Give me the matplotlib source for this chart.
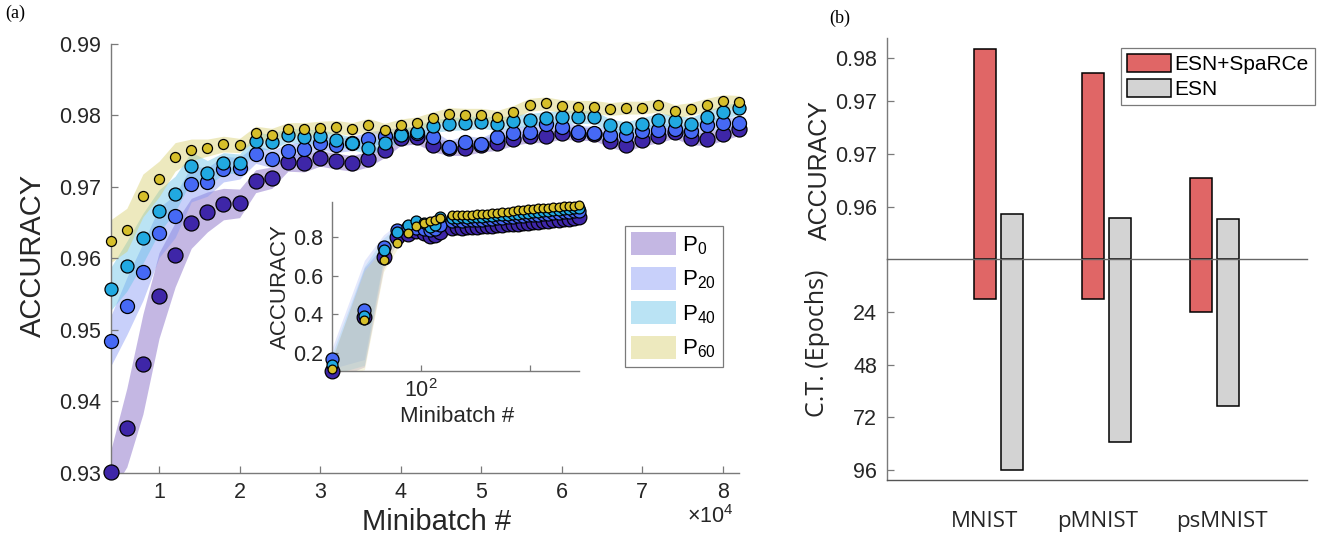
import numpy as np
import matplotlib
matplotlib.use("Agg")
import matplotlib.pyplot as plt
from matplotlib.patches import Patch
from matplotlib.ticker import NullLocator

plt.rcParams["font.family"] = "Liberation Sans"
plt.rcParams["mathtext.fontset"] = "custom"
plt.rcParams["mathtext.rm"] = "Liberation Sans"

# ---------------- data: panel (a) ----------------
minibatch = np.arange(4000, 82001, 2000)

acc_p0 = [0.9301, 0.9363, 0.9452, 0.9548, 0.9605, 0.9649, 0.9665, 0.9676, 0.9677, 0.9708,
          0.9713, 0.9735, 0.9733, 0.9740, 0.9736, 0.9733, 0.9739, 0.9752, 0.9768, 0.9770,
          0.9759, 0.9754, 0.9754, 0.9759, 0.9761, 0.9767, 0.9771, 0.9771, 0.9776, 0.9774,
          0.9774, 0.9764, 0.9759, 0.9766, 0.9771, 0.9777, 0.9768, 0.9767, 0.9774, 0.9781]
acc_p20 = [0.9484, 0.9533, 0.9581, 0.9636, 0.9659, 0.9704, 0.9707, 0.9725, 0.9726, 0.9746,
           0.9739, 0.9750, 0.9753, 0.9762, 0.9758, 0.9761, 0.9767, 0.9771, 0.9774, 0.9775,
           0.9770, 0.9756, 0.9763, 0.9760, 0.9770, 0.9775, 0.9777, 0.9788, 0.9784, 0.9777,
           0.9776, 0.9773, 0.9772, 0.9778, 0.9779, 0.9781, 0.9778, 0.9787, 0.9789, 0.9789]
acc_p40 = [0.9557, 0.9589, 0.9628, 0.9666, 0.9690, 0.9729, 0.9719, 0.9733, 0.9733, 0.9764,
           0.9763, 0.9773, 0.9770, 0.9771, 0.9766, 0.9761, 0.9755, 0.9761, 0.9773, 0.9777,
           0.9785, 0.9788, 0.9789, 0.9791, 0.9788, 0.9792, 0.9794, 0.9796, 0.9798, 0.9798,
           0.9798, 0.9786, 0.9782, 0.9788, 0.9794, 0.9792, 0.9788, 0.9798, 0.9805, 0.9810]
acc_p60 = [0.9624, 0.9640, 0.9688, 0.9711, 0.9742, 0.9752, 0.9755, 0.9760, 0.9758, 0.9775,
           0.9773, 0.9781, 0.9781, 0.9783, 0.9784, 0.9781, 0.9787, 0.9780, 0.9786, 0.9789,
           0.9796, 0.9802, 0.9801, 0.9801, 0.9798, 0.9805, 0.9815, 0.9817, 0.9813, 0.9812,
           0.9812, 0.9809, 0.9811, 0.9811, 0.9814, 0.9806, 0.9809, 0.9815, 0.9820, 0.9819]

# half width of the shaded spread around each curve
spread_p0 = [0.0030, 0.0055, 0.0070, 0.0060, 0.0045, 0.0035, 0.0028, 0.0022, 0.0020, 0.0016,
             0.0015, 0.0013, 0.0012, 0.0011, 0.0011, 0.0011, 0.0011, 0.0011, 0.0010, 0.0010,
             0.0010, 0.0010, 0.0010, 0.0010, 0.0010, 0.0009, 0.0009, 0.0009, 0.0009, 0.0009,
             0.0009, 0.0009, 0.0009, 0.0009, 0.0009, 0.0009, 0.0009, 0.0009, 0.0009, 0.0009]
spread_p20 = [0.0035, 0.0040, 0.0040, 0.0035, 0.0030, 0.0025, 0.0020, 0.0018, 0.0015, 0.0013,
              0.0012, 0.0011, 0.0010, 0.0010, 0.0010, 0.0010, 0.0010, 0.0010, 0.0009, 0.0009,
              0.0009, 0.0009, 0.0009, 0.0009, 0.0009, 0.0009, 0.0009, 0.0009, 0.0009, 0.0009,
              0.0009, 0.0009, 0.0009, 0.0009, 0.0009, 0.0009, 0.0009, 0.0009, 0.0009, 0.0009]
spread_p40 = [0.0030, 0.0035, 0.0035, 0.0030, 0.0025, 0.0020, 0.0018, 0.0015, 0.0013, 0.0012,
              0.0011, 0.0010, 0.0010, 0.0010, 0.0009, 0.0009, 0.0009, 0.0009, 0.0009, 0.0009,
              0.0009, 0.0009, 0.0009, 0.0009, 0.0009, 0.0009, 0.0009, 0.0009, 0.0009, 0.0009,
              0.0009, 0.0009, 0.0009, 0.0009, 0.0009, 0.0009, 0.0009, 0.0009, 0.0009, 0.0009]
spread_p60 = [0.0030, 0.0030, 0.0030, 0.0025, 0.0020, 0.0015, 0.0012, 0.0011, 0.0010, 0.0010,
              0.0009, 0.0009, 0.0009, 0.0009, 0.0009, 0.0009, 0.0009, 0.0009, 0.0009, 0.0009,
              0.0009, 0.0009, 0.0009, 0.0009, 0.0009, 0.0009, 0.0009, 0.0009, 0.0009, 0.0009,
              0.0009, 0.0009, 0.0009, 0.0009, 0.0009, 0.0009, 0.0009, 0.0009, 0.0009, 0.0009]

# inset: whole training on a log axis
minibatch_inset = [15, 30, 45, 60, 75, 90, 105, 120, 135, 150,
                   190, 212, 236, 263, 293, 326, 363, 405, 451, 502, 559, 623, 694,
                   773, 861, 959, 1068, 1190, 1326, 1477, 1645, 1833, 2042, 2275, 2534, 2823]
inset_p0 = [0.110, 0.385, 0.695, 0.800, 0.815, 0.830, 0.820, 0.805, 0.810, 0.825,
            0.845, 0.848, 0.846, 0.850, 0.852, 0.850, 0.853, 0.856, 0.855, 0.858, 0.862,
            0.864, 0.863, 0.867, 0.870, 0.872, 0.875, 0.877, 0.879, 0.882, 0.884, 0.887,
            0.889, 0.892, 0.895, 0.899]
inset_p20 = [0.171, 0.423, 0.749, 0.835, 0.850, 0.845, 0.838, 0.835, 0.840, 0.860,
             0.882, 0.884, 0.883, 0.885, 0.884, 0.887, 0.888, 0.889, 0.892, 0.894, 0.897,
             0.899, 0.902, 0.904, 0.907, 0.909, 0.912, 0.914, 0.917, 0.919, 0.922, 0.924,
             0.926, 0.929, 0.931, 0.934]
inset_p40 = [0.140, 0.393, 0.732, 0.826, 0.860, 0.881, 0.868, 0.850, 0.862, 0.900,
             0.897, 0.898, 0.899, 0.898, 0.900, 0.901, 0.903, 0.904, 0.906, 0.909, 0.911,
             0.913, 0.916, 0.919, 0.921, 0.924, 0.927, 0.929, 0.932, 0.934, 0.937, 0.939,
             0.941, 0.943, 0.945, 0.948]
inset_p60 = [0.119, 0.370, 0.680, 0.766, 0.821, 0.855, 0.872, 0.880, 0.886, 0.895,
             0.911, 0.912, 0.913, 0.913, 0.914, 0.915, 0.917, 0.919, 0.921, 0.924, 0.926,
             0.929, 0.932, 0.935, 0.937, 0.940, 0.943, 0.945, 0.948, 0.950, 0.952, 0.954,
             0.956, 0.958, 0.960, 0.962]
inset_spread = [0.050, 0.255, 0.060, 0.030, 0.020, 0.015, 0.012, 0.010, 0.010, 0.010,
                0.008, 0.008, 0.008, 0.008, 0.008, 0.008, 0.008, 0.008, 0.008, 0.008, 0.008,
                0.008, 0.008, 0.008, 0.008, 0.008, 0.008, 0.008, 0.008, 0.008, 0.008, 0.008,
                0.008, 0.008, 0.008, 0.008]

series_names = ["P$_{0}$", "P$_{20}$", "P$_{40}$", "P$_{60}$"]

# ---------------- data: panel (b) ----------------
datasets = ["MNIST", "pMNIST", "psMNIST"]
acc_sparce = [0.9750, 0.9727, 0.9627]
acc_esn = [0.9593, 0.9589, 0.9588]
epochs_sparce = [18.2, 18.2, 24.1]
epochs_esn = [96.0, 83.3, 67.1]
acc_ticks = [0.960, 0.965, 0.970, 0.9741]
acc_ticklabels = ["0.96", "0.97", "0.97", "0.98"]
epoch_ticks = [24, 48, 72, 96]

# ---------------- style ----------------
marker_cols = ["#3e26a8", "#4669f5", "#21a9e1", "#d6bf2a"]
band_cols = ["#7c61c3", "#8597f4", "#66c3e7", "#d9d06f"]
main_sizes = [117, 102, 88, 52]
inset_sizes = [112, 88, 62, 40]
axis_grey = "#7a7a7a"
text_col = "#262626"

fig = plt.figure(figsize=(13.4, 5.47), dpi=100)

# ---------------- panel (a): main axes ----------------
ax = fig.add_axes([0.0826, 0.1358, 0.4689, 0.7837])
series = [acc_p0, acc_p20, acc_p40, acc_p60]
spreads = [spread_p0, spread_p20, spread_p40, spread_p60]
for vals, spr, bc in zip(series, spreads, band_cols):
    v = np.array(vals)
    s = np.array(spr)
    ax.fill_between(minibatch, v - s, v + s, color=bc, alpha=0.45, lw=0, zorder=1)
for vals, mc, ms in zip(series, marker_cols, main_sizes):
    ax.scatter(minibatch, vals, s=ms, c=mc, edgecolors="black", linewidths=0.9,
               zorder=3, clip_on=False)

ax.set_xlim(4000, 82000)
ax.set_ylim(0.93, 0.99)
ax.set_xticks([10000 * k for k in range(1, 9)])
ax.set_xticklabels([str(k) for k in range(1, 9)])
ax.set_yticks([0.93, 0.94, 0.95, 0.96, 0.97, 0.98, 0.99])
ax.set_yticklabels(["0.93", "0.94", "0.95", "0.96", "0.97", "0.98", "0.99"])
for side in ["top", "right"]:
    ax.spines[side].set_visible(False)
for side in ["left", "bottom"]:
    ax.spines[side].set_color(axis_grey)
    ax.spines[side].set_linewidth(1.0)
ax.tick_params(direction="in", length=5, width=0.9, color=axis_grey,
               labelcolor=text_col, labelsize=15.5, pad=7)

fig.text(33 / 1340, 1 - 255 / 547, "ACCURACY", rotation=90, ha="center", va="center",
         fontsize=21, color=text_col)
fig.text(437 / 1340, 1 - 522 / 547, "Minibatch #", ha="center", va="center",
         fontsize=21, color=text_col)
fig.text(710 / 1340, 1 - 517 / 547, r"$\mathregular{\times10^{4}}$", ha="center",
         va="center", fontsize=15.5, color=text_col)

handles = [Patch(facecolor=bc, alpha=0.45, edgecolor="none") for bc in band_cols]
leg = ax.legend(handles, series_names, loc="upper left", bbox_to_anchor=(0.818, 0.576),
                fontsize=16, handlelength=2.0, handleheight=1.2, labelspacing=0.45,
                handletextpad=0.3, borderpad=0.3, borderaxespad=0, fancybox=False,
                framealpha=1, edgecolor=axis_grey)
leg.get_frame().set_linewidth(0.9)

# ---------------- panel (a): inset ----------------
ax_in = fig.add_axes([0.2475, 0.3218, 0.1846, 0.3095])
inset_series = [inset_p0, inset_p20, inset_p40, inset_p60]
for vals, bc in zip(inset_series, band_cols):
    v = np.array(vals)
    s = np.array(inset_spread)
    ax_in.fill_between(minibatch_inset, v - s, v + s, color=bc, alpha=0.22, lw=0, zorder=1)
for vals, mc, ms in zip(inset_series, marker_cols, inset_sizes):
    ax_in.scatter(minibatch_inset, vals, s=ms, c=mc, edgecolors="black", linewidths=0.9,
                  zorder=3, clip_on=False)
ax_in.set_xscale("log")
ax_in.set_xlim(15, 2830)
ax_in.set_ylim(0.109, 0.98)
ax_in.xaxis.set_minor_locator(NullLocator())
ax_in.set_xticks([100, 1000])
ax_in.set_xticklabels([r"$\mathregular{10^{2}}$", ""])
ax_in.set_yticks([0.2, 0.4, 0.6, 0.8])
ax_in.set_yticklabels(["0.2", "0.4", "0.6", "0.8"])
for side in ["top", "right"]:
    ax_in.spines[side].set_visible(False)
for side in ["left", "bottom"]:
    ax_in.spines[side].set_color(axis_grey)
    ax_in.spines[side].set_linewidth(1.0)
ax_in.tick_params(direction="in", length=4, width=0.9, color=axis_grey,
                  labelcolor=text_col, labelsize=15.5, pad=6)
ax_in.patch.set_alpha(0)
fig.text(280 / 1340, 1 - 287 / 547, "ACCURACY", rotation=90, ha="center", va="center",
         fontsize=16, color=text_col)
fig.text(457 / 1340, 1 - 417 / 547, "Minibatch #", ha="center", va="center",
         fontsize=16, color=text_col)

# ---------------- panel (b) ----------------
groups = np.arange(1, len(datasets) + 1)
bar_w = 0.204
off = 0.125
red = "#e06666"
grey = "#d3d3d3"

ax_b = fig.add_axes([0.662, 0.1225, 0.3134, 0.4035])
ax_t = fig.add_axes([0.662, 0.526, 0.3134, 0.404])

base = 0.955
ax_t.bar(groups - off, np.array(acc_sparce) - base, bottom=base, width=bar_w, color=red,
         edgecolor="black", linewidth=1.1, label="ESN+SpaRCe")
ax_t.bar(groups + off, np.array(acc_esn) - base, bottom=base, width=bar_w, color=grey,
         edgecolor="black", linewidth=1.1, label="ESN")
ax_t.set_ylim(base, 0.976)
ax_t.set_yticks(acc_ticks)
ax_t.set_yticklabels(acc_ticklabels)

ax_b.bar(groups - off, epochs_sparce, width=bar_w, color=red, edgecolor="black", linewidth=1.1)
ax_b.bar(groups + off, epochs_esn, width=bar_w, color=grey, edgecolor="black", linewidth=1.1)
ax_b.set_ylim(100.6, 0)
ax_b.set_yticks(epoch_ticks)
ax_b.set_yticklabels([str(t) for t in epoch_ticks])

for a in (ax_t, ax_b):
    a.set_xlim(-0.028, 3.861)
    a.set_xticks([])
    a.patch.set_alpha(0)
    a.spines["top"].set_visible(False)
    a.spines["right"].set_visible(False)
    for side in ["left", "bottom"]:
        a.spines[side].set_color(axis_grey)
        a.spines[side].set_linewidth(1.0)
        a.spines[side].set_zorder(5)
    a.tick_params(direction="in", length=5, width=0.9, color=axis_grey,
                  labelcolor=text_col, labelsize=15.5, pad=7)
ax_b.spines["bottom"].set_color("#555555")
ax_t.spines["bottom"].set_color("#666666")

leg2 = ax_t.legend(loc="upper left", bbox_to_anchor=(0.557, 0.956), fontsize=15,
                   handlelength=2.1, handleheight=0.95, labelspacing=0.2, handletextpad=0.15,
                   borderpad=0.3, borderaxespad=0, fancybox=False, framealpha=1,
                   edgecolor=axis_grey)
leg2.get_frame().set_linewidth(0.9)

for gx, name in zip([0.875, 1.921, 3.069], datasets):
    ax_b.text(gx, -0.19, name, transform=ax_b.get_xaxis_transform(), ha="center",
              va="center", fontsize=16, family="Open Sans", color=text_col)

fig.text(820 / 1340, 1 - 170 / 547, "ACCURACY", rotation=90, ha="center", va="center",
         fontsize=18, color=text_col)
fig.text(817 / 1340, 1 - 343 / 547, "C.T. (Epochs)", rotation=90, ha="center",
         va="center", fontsize=18, family="Open Sans", color=text_col)

fig.text(15 / 1340, 1 - 13 / 547, "(a)", ha="center", va="center", fontsize=13,
         family="Liberation Serif")
fig.text(840 / 1340, 1 - 18 / 547, "(b)", ha="center", va="center", fontsize=13,
         family="Liberation Serif")

fig.savefig("out.png", dpi=100)
